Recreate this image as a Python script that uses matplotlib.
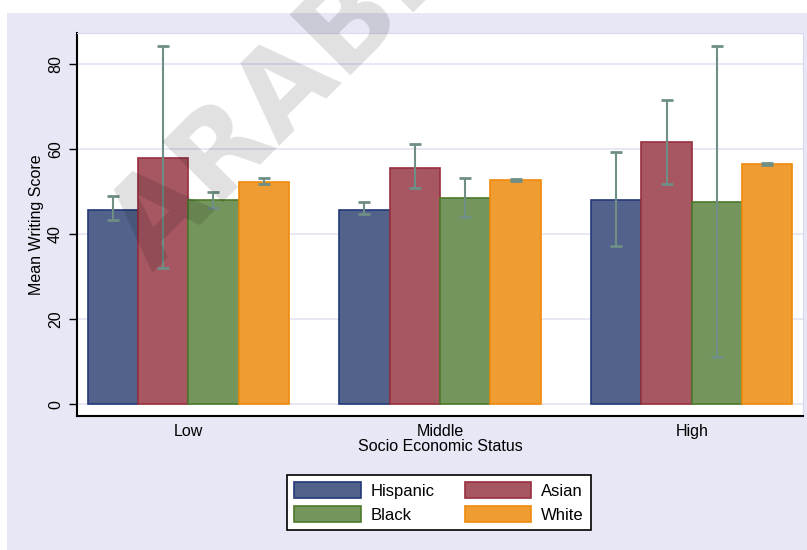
import matplotlib
matplotlib.use("Agg")
import matplotlib.pyplot as plt
import numpy as np
from matplotlib.patches import Rectangle

plt.rcParams["font.family"] = ["Liberation Sans", "DejaVu Sans"]

ses_levels = ["Low", "Middle", "High"]
races = ["Hispanic", "Asian", "Black", "White"]

# mean writing score by SES level
mean_hispanic = [45.7, 45.7, 48.1]
mean_asian = [58.0, 55.7, 61.8]
mean_black = [48.1, 48.6, 47.7]
mean_white = [52.4, 52.8, 56.6]

# confidence interval bounds
lo_hispanic = [43.4, 44.7, 37.2]
hi_hispanic = [49.0, 47.6, 59.4]
lo_asian = [32.1, 50.8, 51.8]
hi_asian = [84.4, 61.2, 71.7]
lo_black = [46.1, 44.2, 11.2]
hi_black = [50.0, 53.2, 84.4]
lo_white = [51.8, 52.5, 56.3]
hi_white = [53.2, 53.1, 56.9]

means = [mean_hispanic, mean_asian, mean_black, mean_white]
lows = [lo_hispanic, lo_asian, lo_black, lo_white]
highs = [hi_hispanic, hi_asian, hi_black, hi_white]

fills = ["#52628a", "#a65761", "#74955b", "#ef9c33"]
edges = ["#22397a", "#98303d", "#4c7a2a", "#f08a0c"]
BG = "#e7e7f5"

fig = plt.figure(figsize=(8.07, 5.5), dpi=100)
fig.add_artist(Rectangle((7 / 807, 0), 800 / 807, 537 / 550, transform=fig.transFigure,
                         facecolor=BG, edgecolor="none", zorder=-1))

ax = fig.add_axes([77 / 807, 134 / 550, 726 / 807, 383 / 550])
ax.set_facecolor("white")

x = np.arange(len(ses_levels))
width = 0.2
handles = []
for i, race in enumerate(races):
    xs = x + (i - 1.5) * width
    m = np.array(means[i])
    bars = ax.bar(xs, m, width=width, color=fills[i], edgecolor=edges[i],
                  linewidth=1.2, zorder=2, label=race)
    handles.append(bars)
    yerr = [m - np.array(lows[i]), np.array(highs[i]) - m]
    ax.errorbar(xs, m, yerr=yerr, fmt="none", ecolor="#6f8f86", elinewidth=1.5,
                capsize=4.5, capthick=2, zorder=3)

ax.set_xlim(-0.442, 2.442)
ax.set_ylim(-2.75, 87.4)
ax.set_yticks([0, 20, 40, 60, 80])
ax.set_xticks(x)
ax.set_xticklabels(ses_levels)
ax.yaxis.grid(True, color="#e4e4f4", linewidth=1.2)
ax.set_axisbelow(True)

for side in ("left", "bottom"):
    ax.spines[side].set_color("black")
    ax.spines[side].set_linewidth(1.5)
for side in ("top", "right"):
    ax.spines[side].set_color("#d8d8ec")
    ax.spines[side].set_linewidth(0.8)

ax.tick_params(axis="y", length=6, width=1, pad=4, labelrotation=90, labelsize=11.5)
plt.setp(ax.get_yticklabels(), va="center")
ax.tick_params(axis="x", length=0, pad=6, labelsize=11.5)

ax.set_ylabel("Mean Writing Score", fontsize=11.5)
ax.yaxis.set_label_coords(-0.045, 0.5)
ax.set_xlabel("Socio Economic Status", fontsize=11.5, labelpad=0)

order = [0, 2, 1, 3]
leg = ax.legend([handles[k] for k in order], [races[k] for k in order], ncol=2,
                loc="center", bbox_to_anchor=(439 / 807, 47.5 / 550),
                bbox_transform=fig.transFigure, frameon=True, fancybox=False,
                edgecolor="black", framealpha=1, fontsize=12, handlelength=4.0,
                handleheight=1.1, handletextpad=0.6, columnspacing=1.8,
                labelspacing=0.45, borderpad=0.45)
leg.get_frame().set_linewidth(1.2)

# watermark
fig.text(272 / 807, 1 - 108 / 550, "ARABI", rotation=45, fontsize=84,
         fontweight="bold", family="DejaVu Sans", color="black", alpha=0.12,
         ha="center", va="center", zorder=10)

fig.savefig("out.png", dpi=100)
